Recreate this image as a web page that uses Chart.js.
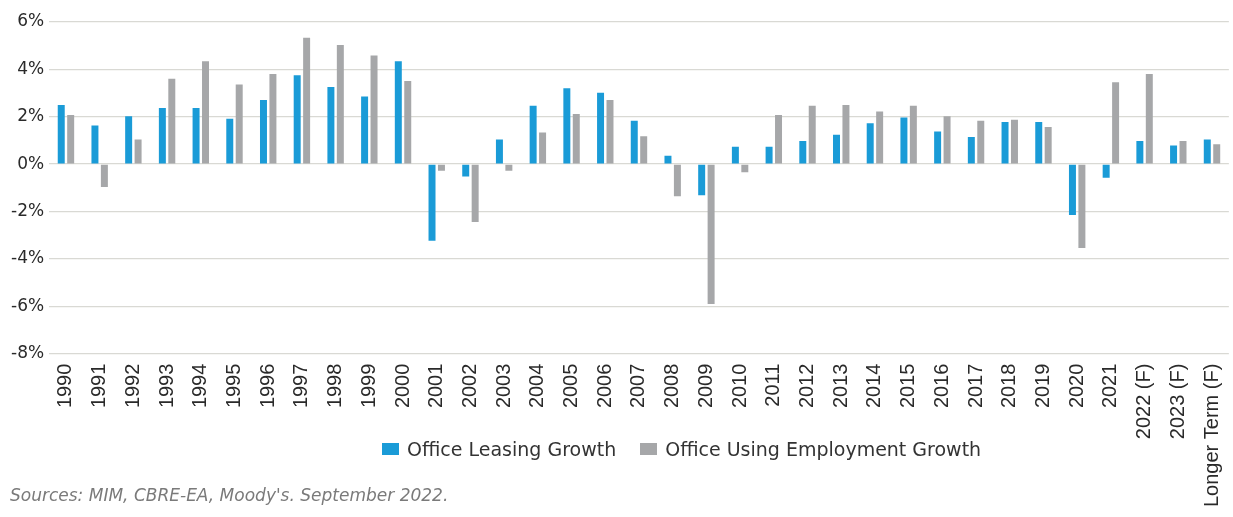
<!DOCTYPE html>
<html>
<head>
<meta charset="utf-8">
<script src="https://cdn.jsdelivr.net/npm/chart.js@4"></script>
<style>
  body { margin: 0; background: #fff; overflow: hidden; }
  #wrap { position: relative; width: 1233px; height: 517px; overflow: hidden; }
  #grafico { position: absolute; left: 0; top: 0; }
  .leyenda { position: absolute; top: 438px; left: 382px; font-family: "DejaVu Sans", sans-serif; font-size: 19px; color: #333; white-space: nowrap; }
  .leyenda span.caja { display: inline-block; width: 17px; height: 12px; margin-right: 8px; vertical-align: 1px; }
  .leyenda span.item { margin-right: 24px; }
  .fuente { position: absolute; left: 10px; top: 485px; font-family: "DejaVu Sans", sans-serif; font-style: italic; font-size: 17px; color: #7a7a7a; }
</style>
</head>
<body>
<div id="wrap">
  <canvas id="grafico" width="1246" height="517"></canvas>
  <div class="leyenda">
    <span class="item"><span class="caja" style="background:#1a9bd7"></span>Office Leasing Growth</span><span class="item"><span class="caja" style="background:#a6a7a9"></span>Office Using Employment Growth</span>
  </div>
  <div class="fuente">Sources: MIM, CBRE-EA, Moody's. September 2022.</div>
</div>
<script>
var etiquetas = [
    "1990", "1991", "1992", "1993", "1994", "1995", "1996", "1997", "1998", "1999",
    "2000", "2001", "2002", "2003", "2004", "2005", "2006", "2007", "2008", "2009",
    "2010", "2011", "2012", "2013", "2014", "2015", "2016", "2017", "2018", "2019",
    "2020", "2021", "2022 (F)", "2023 (F)", "Longer Term (F)"
];

var leasing = [2.50, 1.63, 2.02, 2.37, 2.37, 1.92, 2.71, 3.75, 3.26, 2.85,
    4.34, -3.23, -0.52, 1.04, 2.46, 3.20, 3.01, 1.83, 0.35, -1.31,
    0.73, 0.73, 0.98, 1.24, 1.73, 1.97, 1.38, 1.14, 1.78, 1.78,
    -2.15, -0.58, 0.98, 0.79, 1.04];

var empleo = [2.07, -0.97, 1.04, 3.60, 4.34, 3.36, 3.81, 5.34, 5.03, 4.59,
    3.51, -0.28, -2.44, -0.28, 1.33, 2.12, 2.71, 1.18, -1.36, -5.90,
    -0.34, 2.07, 2.46, 2.50, 2.22, 2.46, 2.02, 1.83, 1.87, 1.57,
    -3.54, 3.46, 3.81, 0.98, 0.84];

var ticksY = [-8, -6, -4, -2, 0, 2, 4, 6];

var grafico = new Chart(document.getElementById("grafico"), {
    type: 'bar',
    data: {
        labels: etiquetas,
        datasets: [
            {
                label: 'Office Leasing Growth',
                data: leasing,
                backgroundColor: '#1a9bd7',
                categoryPercentage: 0.56,
                barPercentage: 0.74
            },
            {
                label: 'Office Using Employment Growth',
                data: empleo,
                backgroundColor: '#a6a7a9',
                categoryPercentage: 0.56,
                barPercentage: 0.74
            }
        ]
    },
    options: {
        responsive: false,
        animation: false,
        layout: {
            padding: { left: 6, right: 0, top: 22, bottom: 0 }
        },
        plugins: {
            legend: { display: false },
            tooltip: { enabled: false }
        },
        scales: {
            x: {
                grid: { display: false, drawTicks: false },
                border: { display: false },
                ticks: {
                    minRotation: 90,
                    maxRotation: 90,
                    autoSkip: false,
                    padding: 10,
                    color: '#2a2a2a',
                    font: { family: '"Liberation Sans", Arial, sans-serif', size: 20 }
                }
            },
            y: {
                min: -8,
                max: 6,
                afterBuildTicks: function (eje) {
                    eje.ticks = ticksY.map(function (v) { return { value: v }; });
                },
                grid: { color: '#d9d9d4', lineWidth: 1.3, drawTicks: false },
                border: { display: false },
                ticks: {
                    padding: 5,
                    color: '#2a2a2a',
                    font: { family: 'DejaVu Sans', size: 17 },
                    callback: function (v) { return v + '%'; }
                }
            }
        }
    }
});
</script>
</body>
</html>
